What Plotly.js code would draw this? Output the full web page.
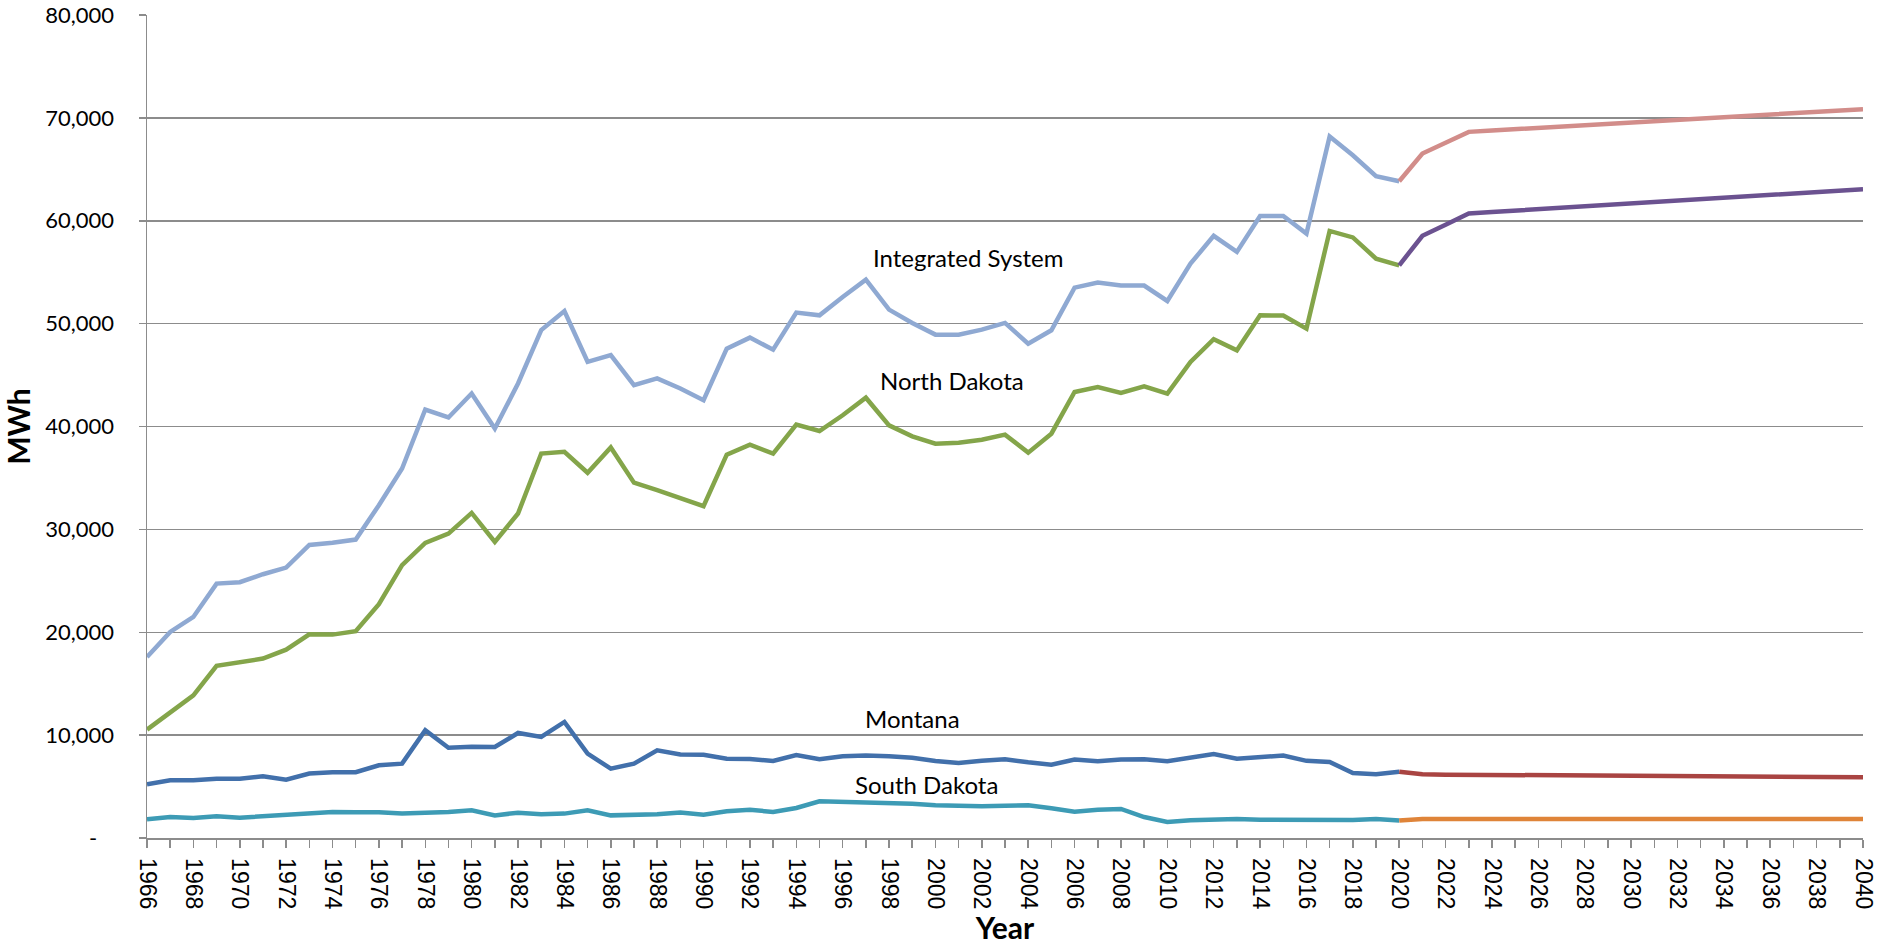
<!DOCTYPE html>
<html>
<head>
<meta charset="utf-8">
<script src="https://cdn.plot.ly/plotly-3.0.1.min.js"></script>
<style>
  html, body { margin: 0; padding: 0; background: #fff; }
  #chart { width: 1881px; height: 947px; }
</style>
</head>
<body>
<div id="chart"></div>
<script>
// ─────────────────────────────
// DATA (MWh)
// ─────────────────────────────
const histYears = [];
for (let y = 1966; y <= 2020; y++) histYears.push(y);
const fcstYears = [];
for (let y = 2020; y <= 2040; y++) fcstYears.push(y);

const integratedHist = [
  17600, 20030, 21490, 24730, 24860, 25640, 26290, 28490, 28690, 29010,
  32350, 35920, 41650, 40880, 43210, 39800, 44180, 49370, 51220, 46290,
  46940, 44020, 44670, 43690, 42550, 47570, 48640, 47470, 51070, 50810,
  52590, 54280, 51360, 50070, 48930, 48930, 49420, 50070, 48050, 49350,
  53500, 53990, 53700, 53700, 52200, 55830, 58530, 56970, 60470, 60470,
  58750, 68180, 66370, 64330, 63840
];
const northDakotaHist = [
  10540, 12250, 13870, 16730, 17080, 17440, 18310, 19800, 19770, 20100,
  22720, 26520, 28690, 29590, 31600, 28780, 31540, 37370, 37540, 35500,
  37960, 34540, 33810, 33050, 32250, 37260, 38230, 37360, 40180, 39560,
  41090, 42800, 40110, 39040, 38330, 38430, 38720, 39210, 37460, 39300,
  43360, 43840, 43260, 43910, 43190, 46270, 48480, 47410, 50810, 50780,
  49510, 59010, 58380, 56320, 55670
];
const montanaHist = [
  5220, 5610, 5610, 5770, 5770, 6000, 5670, 6260, 6390, 6390,
  7070, 7230, 10470, 8780, 8880, 8850, 10210, 9820, 11280, 8200,
  6740, 7230, 8530, 8120, 8100, 7710, 7680, 7490, 8070, 7650,
  7940, 8010, 7940, 7810, 7490, 7290, 7520, 7650, 7360, 7130,
  7620, 7460, 7620, 7650, 7460, 7810, 8170, 7710, 7880, 8010,
  7500, 7390, 6320, 6190, 6450
];
const southDakotaHist = [
  1820, 2040, 1950, 2110, 1980, 2110, 2270, 2370, 2530, 2500,
  2500, 2370, 2400, 2530, 2690, 2200, 2460, 2300, 2370, 2690,
  2200, 2200, 2300, 2480, 2270, 2590, 2750, 2530, 2920, 3570,
  3530, 3470, 3370, 3340, 3180, 3110, 3080, 3140, 3180, 2890,
  2560, 2750, 2820, 2040, 1560, 1720, 1820, 1850, 1780, 1750,
  1720, 1750, 1750, 1850, 1690
];

const integratedFcst = [
  63840, 66540, 67580, 68640, 68770, 68900, 69030, 69160, 69290, 69420,
  69550, 69680, 69810, 69940, 70060, 70190, 70320, 70450, 70580, 70710,
  70840
];
const northDakotaFcst = [
  55670, 58540, 59620, 60710, 60850, 60990, 61130, 61270, 61410, 61550,
  61690, 61830, 61970, 62110, 62240, 62380, 62520, 62660, 62800, 62940,
  63070
];
const montanaFcst = [
  6450, 6190, 6160, 6150, 6140, 6130, 6110, 6100, 6090, 6080,
  6060, 6050, 6040, 6030, 6010, 6000, 5990, 5970, 5950, 5930,
  5910
];
const southDakotaFcst = [
  1690, 1850, 1850, 1850, 1850, 1850, 1850, 1850, 1850, 1850,
  1850, 1850, 1850, 1850, 1850, 1850, 1850, 1850, 1850, 1850,
  1850
];

const yTickVals = [0, 10000, 20000, 30000, 40000, 50000, 60000, 70000, 80000];
const yTickText = ['-\u00a0\u00a0\u00a0', '10,000', '20,000', '30,000', '40,000',
                   '50,000', '60,000', '70,000', '80,000'];
const xTickVals = [];
for (let y = 1966; y <= 2040; y += 2) xTickVals.push(y);

// ─────────────────────────────
// Trazas
// ─────────────────────────────
function line(x, y, color, name) {
  return {
    x, y, name,
    type: 'scatter',
    mode: 'lines',
    line: { color, width: 4.5 },
    hoverinfo: 'x+y+name'
  };
}

const traces = [
  line(histYears, integratedHist, '#8FA9D2', 'Integrated System'),
  line(histYears, northDakotaHist, '#84A54A', 'North Dakota'),
  line(histYears, montanaHist, '#4270AB', 'Montana'),
  line(histYears, southDakotaHist, '#3D9BB5', 'South Dakota'),
  line(fcstYears, integratedFcst, '#D28D8A', 'Integrated System forecast'),
  line(fcstYears, northDakotaFcst, '#6B5290', 'North Dakota forecast'),
  line(fcstYears, montanaFcst, '#A94442', 'Montana forecast'),
  line(fcstYears, southDakotaFcst, '#DF8439', 'South Dakota forecast')
];

const gray = '#8C8C8C';
const labelFont = { family: 'Lato, "Liberation Sans", sans-serif', size: 24, color: '#000' };

function seriesLabel(text, x, y) {
  return { text, x, y, xref: 'x', yref: 'y', showarrow: false, font: labelFont };
}

const layout = {
  width: 1881,
  height: 947,
  margin: { l: 147, r: 18, t: 15, b: 109 },
  paper_bgcolor: '#fff',
  plot_bgcolor: '#fff',
  showlegend: false,
  xaxis: {
    range: [1966, 2040],
    tickvals: xTickVals,
    tickangle: 90,
    ticks: 'outside',
    ticklen: 8,
    tickwidth: 1.5,
    tickcolor: gray,
    ticklabelstandoff: 6,
    minor: { dtick: 1, tick0: 1966, ticks: 'outside', ticklen: 8, tickwidth: 1.5, tickcolor: gray, showgrid: false },
    showgrid: false,
    zeroline: false,
    showline: true,
    linecolor: gray,
    linewidth: 1.5,
    tickfont: { family: '"Liberation Sans", Arial, sans-serif', size: 23, color: '#000' },
    title: {
      text: 'Year',
      standoff: 8,
      font: { family: 'Lato, "Liberation Sans", sans-serif', size: 30, color: '#000', weight: 'bold' }
    }
  },
  yaxis: {
    range: [0, 80000],
    tickvals: yTickVals,
    ticktext: yTickText,
    ticks: 'outside',
    ticklen: 7,
    tickwidth: 1.5,
    tickcolor: gray,
    ticklabelstandoff: 20,
    showgrid: true,
    gridcolor: gray,
    gridwidth: 1.5,
    zeroline: false,
    showline: true,
    linecolor: gray,
    linewidth: 1.5,
    tickfont: { family: 'Lato, "Liberation Sans", sans-serif', size: 22, color: '#000' },
    title: {
      text: 'MWh',
      standoff: 8,
      font: { family: 'Lato, "Liberation Sans", sans-serif', size: 30, color: '#000', weight: 'bold' }
    }
  },
  annotations: [
    seriesLabel('Integrated System', 2001.4, 56470),
    seriesLabel('North Dakota', 2000.7, 44510),
    seriesLabel('Montana', 1999.0, 11640),
    seriesLabel('South Dakota', 1999.6, 5220)
  ]
};

Plotly.newPlot('chart', traces, layout, { displayModeBar: false, staticPlot: true });
</script>
</body>
</html>
